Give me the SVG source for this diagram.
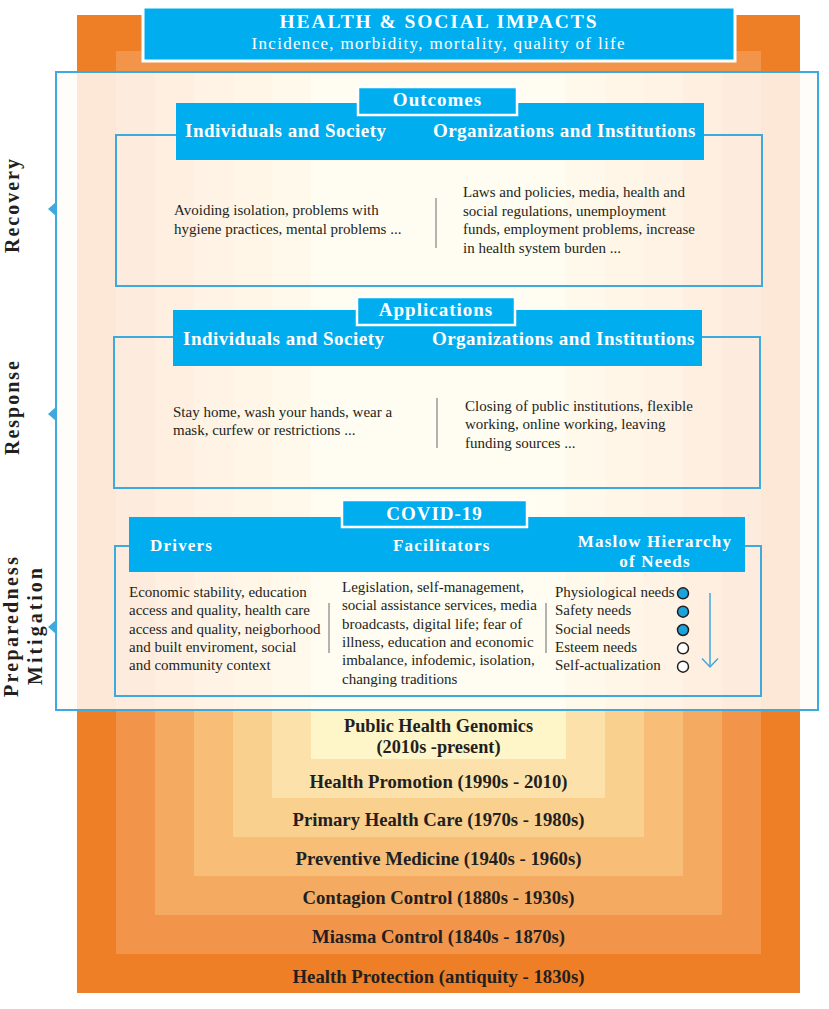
<svg xmlns="http://www.w3.org/2000/svg" width="829" height="1009" viewBox="0 0 829 1009">
<style>
text{font-family:"Liberation Serif","Times New Roman",serif}
.body{font-size:15px;fill:#231F20}
.bar{font-size:19px;font-weight:bold;fill:#fff;letter-spacing:0.5px}
.bar2{font-size:17px;font-weight:bold;fill:#fff;letter-spacing:1.2px}
.tab{font-size:19px;font-weight:bold;fill:#fff;letter-spacing:1px;text-anchor:middle}
.side{font-size:20px;font-weight:bold;fill:#231F20;text-anchor:middle}
.era{font-size:19px;font-weight:bold;fill:#231F20;text-anchor:middle}
.outline{fill:none;stroke:#3CAADC;stroke-width:2}
.blue{fill:#00AEEF}
.tabbox{fill:#00AEEF;stroke:#fff;stroke-width:2.5}
.div{stroke:#9A9A9A;stroke-width:1.5}
.mark{fill:#3CAADC}
.dot{stroke:#231F20;stroke-width:1.5}
</style>

<g id="bands">
<rect x="77" y="15" width="723" height="978" fill="#EF7F27"/>
<rect x="116" y="51" width="645" height="903" fill="#F2944A"/>
<rect x="155" y="72" width="567" height="843" fill="#F5AA62"/>
<rect x="194" y="72" width="489" height="804" fill="#F8BE78"/>
<rect x="233" y="72" width="411" height="765" fill="#FAD08F"/>
<rect x="272" y="72" width="333" height="726" fill="#FCE2AA"/>
<rect x="311" y="72" width="255" height="687" fill="#FEF5C8"/>
</g>

<g id="eras">
<text class="era" x="438.5" y="732" textLength="189" lengthAdjust="spacingAndGlyphs">Public Health Genomics</text>
<text class="era" x="438.5" y="753" textLength="124" lengthAdjust="spacingAndGlyphs">(2010s -present)</text>
<text class="era" x="438.5" y="788" textLength="258" lengthAdjust="spacingAndGlyphs">Health Promotion (1990s - 2010)</text>
<text class="era" x="438.5" y="826" textLength="292" lengthAdjust="spacingAndGlyphs">Primary Health Care (1970s - 1980s)</text>
<text class="era" x="438.5" y="865" textLength="286" lengthAdjust="spacingAndGlyphs">Preventive Medicine (1940s - 1960s)</text>
<text class="era" x="438.5" y="904" textLength="272" lengthAdjust="spacingAndGlyphs">Contagion Control (1880s - 1930s)</text>
<text class="era" x="438.5" y="943" textLength="253" lengthAdjust="spacingAndGlyphs">Miasma Control (1840s - 1870s)</text>
<text class="era" x="438.5" y="983" textLength="292" lengthAdjust="spacingAndGlyphs">Health Protection (antiquity - 1830s)</text>
</g>

<g id="header">
<rect x="143" y="7" width="592" height="54" fill="#00AEEF" stroke="#fff" stroke-width="3"/>
<text x="438" y="27.5" font-size="19.5" font-weight="bold" fill="#fff" text-anchor="middle" textLength="317">HEALTH &amp; SOCIAL IMPACTS</text>
<text x="438" y="48.5" font-size="17" fill="#fff" text-anchor="middle" textLength="373">Incidence, morbidity, mortality, quality of life</text>
</g>

<g id="panel">
<rect x="56" y="72" width="762" height="638" fill="#FFFDF9" fill-opacity="0.84" stroke="#3CAADC" stroke-width="2"/>
</g>

<g id="phase-labels">
<text class="side" transform="translate(18.5,206) rotate(-90)" textLength="94">Recovery</text>
<polygon class="mark" points="48,209 56,202 56,216"/>
<text class="side" transform="translate(18.5,408) rotate(-90)" textLength="94">Response</text>
<polygon class="mark" points="48,414 56,407 56,421"/>
<text class="side" transform="translate(18,627) rotate(-90)" textLength="140">Preparedness</text>
<text class="side" transform="translate(41.5,626.5) rotate(-90)" textLength="117">Mitigation</text>
<polygon class="mark" points="48,627 56,620 56,634"/>
</g>

<g id="outcomes">
<rect class="outline" x="116" y="135" width="646" height="151"/>
<rect class="blue" x="176" y="103" width="528" height="57"/>
<rect class="tabbox" x="358" y="87" width="159" height="28"/>
<text class="tab" x="437.5" y="106">Outcomes</text>
<text class="bar" x="185" y="137">Individuals and Society</text>
<text class="bar" x="696" y="137" text-anchor="end">Organizations and Institutions</text>
<text class="body" x="174" y="215">Avoiding isolation, problems with</text>
<text class="body" x="174" y="233.5">hygiene practices, mental problems ...</text>
<line class="div" x1="436" y1="198" x2="436" y2="248"/>
<text class="body" x="463" y="197">Laws and policies, media, health and</text>
<text class="body" x="463" y="215.5">social regulations, unemployment</text>
<text class="body" x="463" y="234">funds, employment problems, increase</text>
<text class="body" x="463" y="252.5">in health system burden ...</text>
</g>

<g id="applications">
<rect class="outline" x="114" y="337" width="646" height="151"/>
<rect class="blue" x="173" y="310" width="529" height="56"/>
<rect class="tabbox" x="357" y="297" width="158" height="28"/>
<text class="tab" x="436" y="315.5">Applications</text>
<text class="bar" x="183" y="345">Individuals and Society</text>
<text class="bar" x="695" y="345" text-anchor="end">Organizations and Institutions</text>
<text class="body" x="173" y="416.5">Stay home, wash your hands, wear a</text>
<text class="body" x="173" y="435">mask, curfew or restrictions ...</text>
<line class="div" x1="437" y1="398" x2="437" y2="448"/>
<text class="body" x="465" y="410.5">Closing of public institutions, flexible</text>
<text class="body" x="465" y="429">working, online working, leaving</text>
<text class="body" x="465" y="447.5">funding sources ...</text>
</g>

<g id="covid">
<rect class="outline" x="115" y="546" width="646" height="150"/>
<rect class="blue" x="129" y="517" width="616" height="55"/>
<rect class="tabbox" x="342" y="500" width="185" height="27"/>
<text class="tab" x="434.5" y="520">COVID-19</text>
<text class="bar2" x="150" y="551">Drivers</text>
<text class="bar2" x="393" y="551">Facilitators</text>
<text class="bar2" x="655" y="547" text-anchor="middle">Maslow Hierarchy</text>
<text class="bar2" x="655" y="567" text-anchor="middle">of Needs</text>
<text class="body" x="129" y="597">Economic stability, education</text>
<text class="body" x="129" y="615.3">access and quality, health care</text>
<text class="body" x="129" y="633.6">access and quality, neigborhood</text>
<text class="body" x="129" y="651.9">and built enviroment, social</text>
<text class="body" x="129" y="670.2">and community context</text>
<line class="div" x1="329" y1="603" x2="329" y2="653"/>
<text class="body" x="342" y="592">Legislation, self-management,</text>
<text class="body" x="342" y="610.3">social assistance services, media</text>
<text class="body" x="342" y="628.6">broadcasts, digital life; fear of</text>
<text class="body" x="342" y="646.9">illness, education and economic</text>
<text class="body" x="342" y="665.2">imbalance, infodemic, isolation,</text>
<text class="body" x="342" y="683.5">changing traditions</text>
<line class="div" x1="546" y1="603" x2="546" y2="653"/>
<text class="body" x="555" y="597">Physiological needs</text>
<text class="body" x="555" y="615.3">Safety needs</text>
<text class="body" x="555" y="633.6">Social needs</text>
<text class="body" x="555" y="651.9">Esteem needs</text>
<text class="body" x="555" y="670.2">Self-actualization</text>
<circle class="dot" cx="683" cy="593.3" r="5.5" fill="#1BA3DD"/>
<circle class="dot" cx="683" cy="611.7" r="5.5" fill="#1BA3DD"/>
<circle class="dot" cx="683" cy="630" r="5.5" fill="#1BA3DD"/>
<circle class="dot" cx="683" cy="648.3" r="5.5" fill="#fff"/>
<circle class="dot" cx="683" cy="666.7" r="5.5" fill="#fff"/>
</g>

<g id="connectors">
<line x1="710" y1="593" x2="710" y2="667" stroke="#3CAADC" stroke-width="1.5"/>
<polyline points="702,658.5 710,667 718,658.5" fill="none" stroke="#3CAADC" stroke-width="1.5"/>
</g>
</svg>
